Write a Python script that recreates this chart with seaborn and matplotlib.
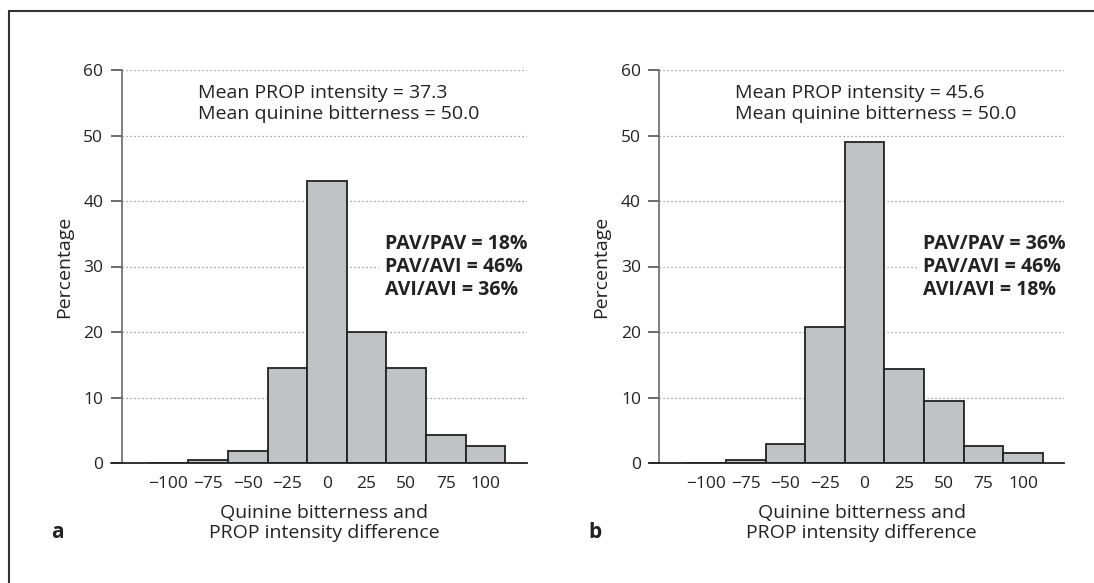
import numpy as np
import pandas as pd
import matplotlib
matplotlib.use("Agg")
import matplotlib.pyplot as plt
import seaborn as sns
from matplotlib.lines import Line2D

# ---- data ----
bin_centers = [-100, -75, -50, -25, 0, 25, 50, 75, 100]
pct_a = [0.0, 0.4, 1.9, 14.5, 43.1, 20.0, 14.5, 4.2, 2.6]
pct_b = [0.0, 0.4, 2.9, 20.7, 49.0, 14.3, 9.5, 2.6, 1.5]
yticks = [0, 10, 20, 30, 40, 50, 60]
xtick_labels = ["\u2212100", "\u221275", "\u221250", "\u221225", "0", "25", "50", "75", "100"]
means_a = ["Mean PROP intensity = 37.3", "Mean quinine bitterness = 50.0"]
means_b = ["Mean PROP intensity = 45.6", "Mean quinine bitterness = 50.0"]
geno_a = ["PAV/PAV = 18%", "PAV/AVI = 46%", "AVI/AVI = 36%"]
geno_b = ["PAV/PAV = 36%", "PAV/AVI = 46%", "AVI/AVI = 18%"]
panel_letters = ["a", "b"]
xlabel = "Quinine bitterness and\nPROP intensity difference"
ylabel = "Percentage"

sns.set_theme(style="white")
plt.rcParams['font.family'] = ['Open Sans', 'DejaVu Sans']

fig = plt.figure(figsize=(10.94, 5.83), dpi=100)
W, H = 1094, 583

bin_w = 25
edges = [c - bin_w / 2 for c in bin_centers] + [bin_centers[-1] + bin_w / 2]

ax_rects = [
    (121.7 / W, (H - 463) / H, 405 / W, 393 / H),
    (659.3 / W, (H - 463) / H, 405 / W, 393 / H),
]

tick_fs = 12.5
lab_fs = 14
txt_fs = 14
ink = "#222222"
for i, (rect, pct, means, geno, letter) in enumerate(
        zip(ax_rects, [pct_a, pct_b], [means_a, means_b], [geno_a, geno_b], panel_letters)):
    ax = fig.add_axes(rect)
    df = pd.DataFrame({"x": bin_centers, "w": pct})
    sns.histplot(data=df, x="x", weights="w", bins=edges, ax=ax,
                 color="#c1c2c4", edgecolor=ink, linewidth=1.3, alpha=1.0)
    ax.set_xlim(-129.5, 126)
    ax.set_ylim(0, 60)
    ax.set_yticks(yticks)
    ax.set_xticks(bin_centers)
    ax.set_xticklabels(xtick_labels)
    ax.set_axisbelow(True)
    ax.yaxis.grid(True, linestyle=(0, (1, 2.2)), color="#8a8a8a", linewidth=0.9)
    ax.xaxis.grid(False)
    for s in ["top", "right"]:
        ax.spines[s].set_visible(False)
    ax.spines["left"].set_color("#6a6a6a")
    ax.spines["bottom"].set_color(ink)
    ax.spines["left"].set_linewidth(1.2)
    ax.spines["bottom"].set_linewidth(1.3)
    ax.tick_params(axis="y", which="both", left=True, length=7.7, width=1.1,
                   color="#444444", labelsize=tick_fs, labelcolor=ink, pad=5.5)
    ax.tick_params(axis="x", which="both", bottom=False, length=0, labelsize=tick_fs,
                   labelcolor=ink, pad=9.7)
    ax.set_xlabel(xlabel, fontsize=lab_fs, color=ink, linespacing=1.14, labelpad=8.5)
    ax.set_ylabel(ylabel, fontsize=lab_fs, color=ink, labelpad=7.5)
    # extend bottom spine to tick end
    ax.add_line(Line2D([-10.7 / 405, 0], [0, 0], transform=ax.transAxes,
                       color=ink, lw=1.3, clip_on=False))

    ax.text(0.188, 0.915, "\n".join(means), transform=ax.transAxes, fontsize=txt_fs,
            color=ink, va="center", ha="left", linespacing=1.17)
    ax.text(0.650, 0.4987, "\n".join(geno), transform=ax.transAxes, fontsize=txt_fs,
            color=ink, va="center", ha="left", fontweight="bold", linespacing=1.2,
            bbox=dict(facecolor="white", edgecolor="none", pad=4))
    fig.text(rect[0] - 70.7 / W, (H - 533) / H, letter, fontsize=15,
             fontweight="bold", color=ink, ha="left", va="center")

# figure border (top and left)
fig.add_artist(Line2D([9 / W, 1.0], [1 - 11 / H, 1 - 11 / H], transform=fig.transFigure,
                      color="#333333", lw=1.5))
fig.add_artist(Line2D([9 / W, 9 / W], [0, 1 - 11 / H], transform=fig.transFigure,
                      color="#333333", lw=1.5))

fig.savefig("out.png", dpi=100, facecolor="white")
